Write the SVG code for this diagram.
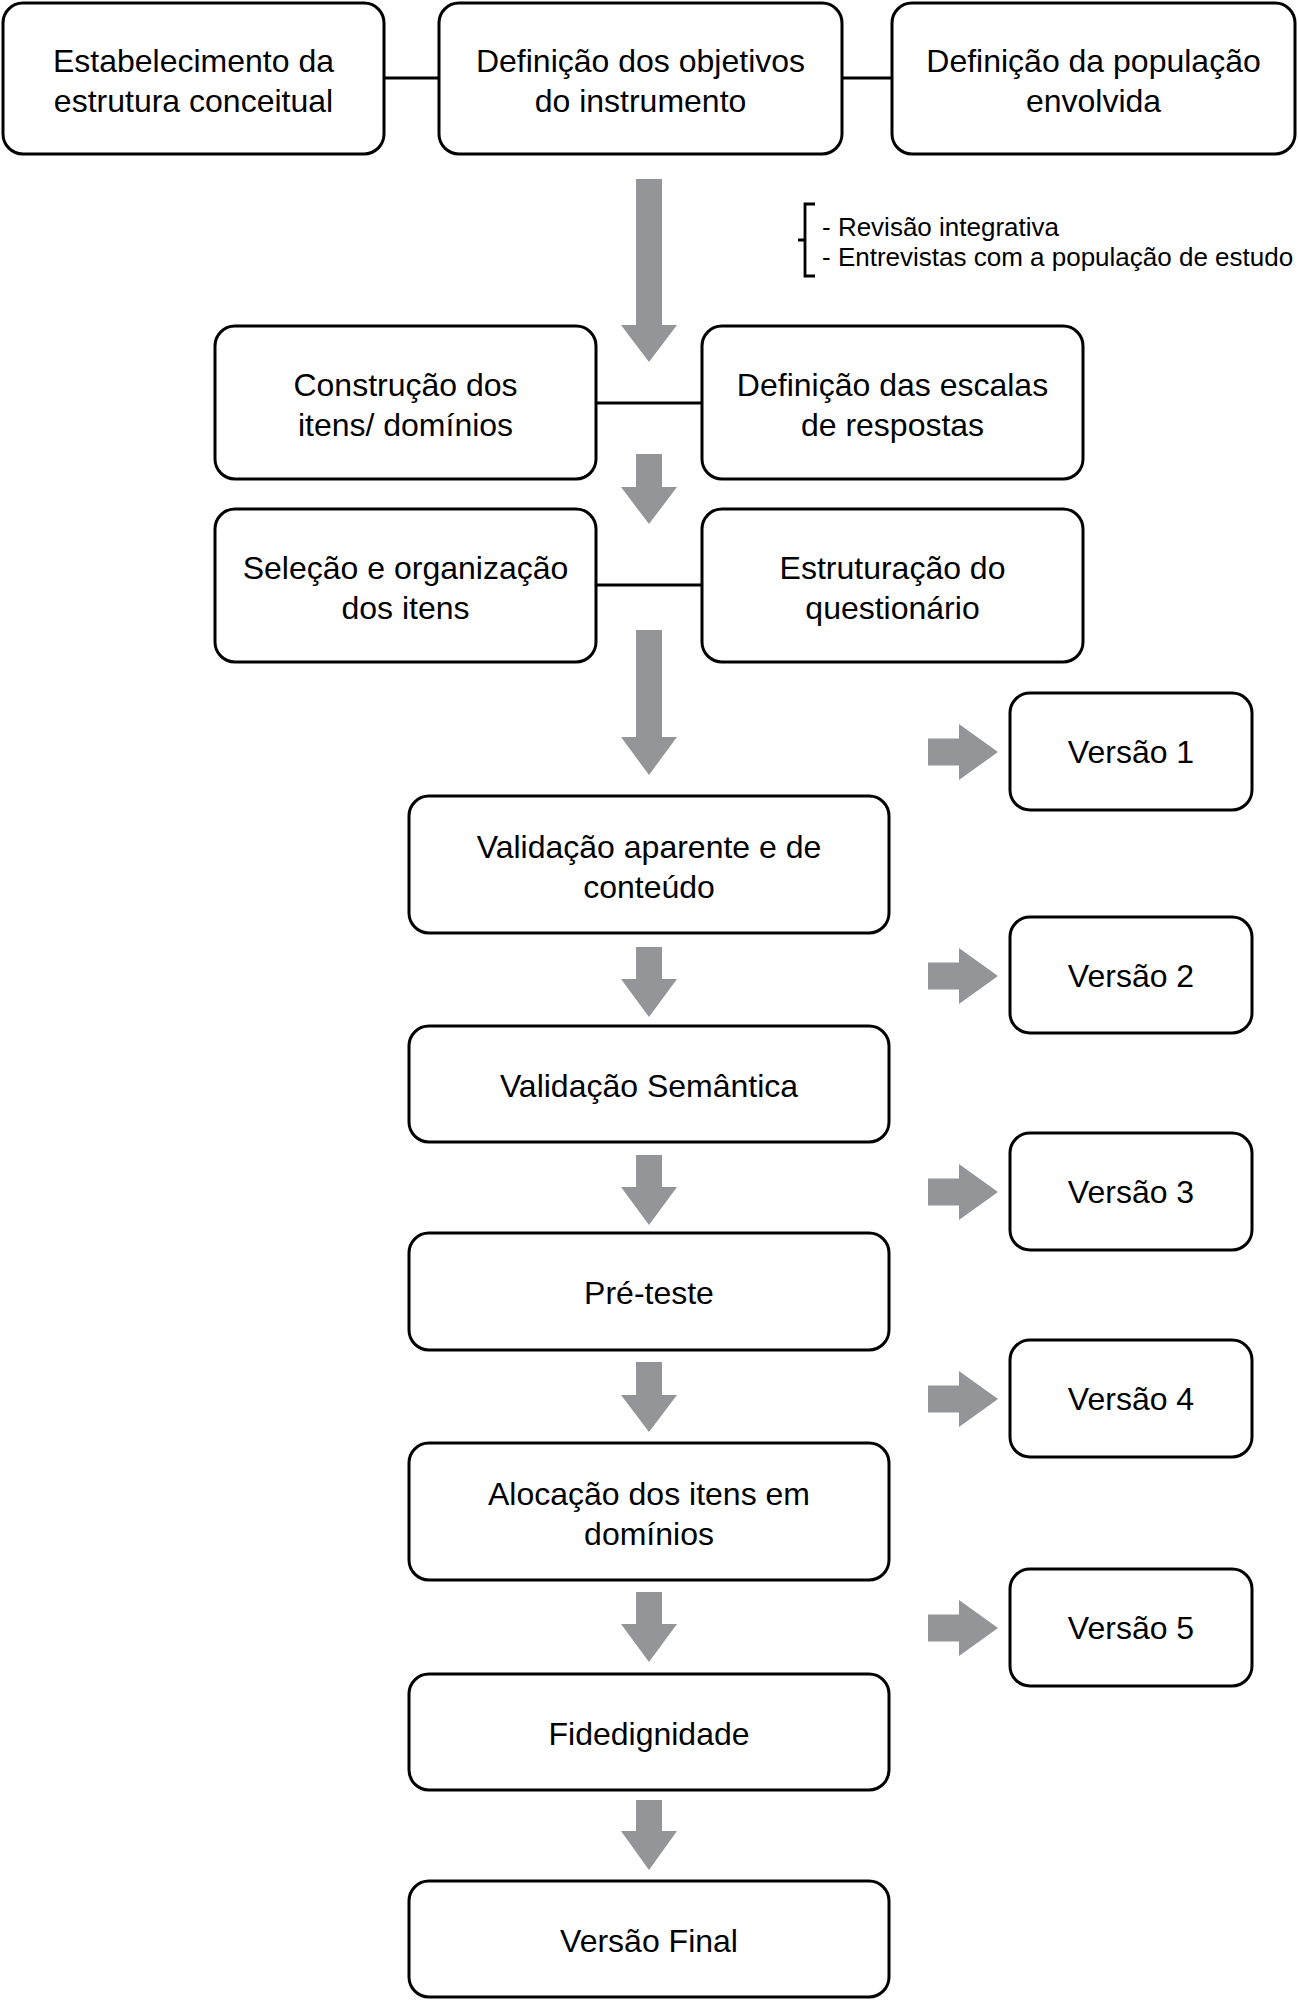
<svg xmlns="http://www.w3.org/2000/svg" width="1298" height="2000" viewBox="0 0 1298 2000">
<defs>
<style>
.node rect{fill:#fff;stroke:#000;stroke-width:3}
.node text{font-family:"Liberation Sans",Arial,sans-serif;font-size:32px;fill:#000;text-anchor:middle}
.link{stroke:#000;stroke-width:3;fill:none}
.arrow{fill:#939598;stroke:none}
.note{font-family:"Liberation Sans",Arial,sans-serif;font-size:26px;fill:#000}
</style>
</defs>
<rect width="1298" height="2000" fill="#fff"/>

<g id="connectors">
<line class="link" x1="384" y1="78" x2="439" y2="78"/>
<line class="link" x1="842" y1="78" x2="892" y2="78"/>
<line class="link" x1="596" y1="403" x2="702" y2="403"/>
<line class="link" x1="596" y1="585" x2="702" y2="585"/>
<path class="arrow" d="M636,179 H662 V325 H677 L649,362 L621,325 H636 Z"/>
<path class="arrow" d="M636,454 H662 V487 H677 L649,524 L621,487 H636 Z"/>
<path class="arrow" d="M636,630 H662 V737 H677 L649,775 L621,737 H636 Z"/>
<path class="arrow" d="M636,947 H662 V979 H677 L649,1017 L621,979 H636 Z"/>
<path class="arrow" d="M636,1155 H662 V1187 H677 L649,1225 L621,1187 H636 Z"/>
<path class="arrow" d="M636,1362 H662 V1395 H677 L649,1432 L621,1395 H636 Z"/>
<path class="arrow" d="M636,1592 H662 V1624 H677 L649,1662 L621,1624 H636 Z"/>
<path class="arrow" d="M636,1800 H662 V1831 H677 L649,1870 L621,1831 H636 Z"/>
<path class="arrow" d="M928,738.5 H959 V724 L998,752 L959,780 V765.5 H928 Z"/>
<path class="arrow" d="M928,962.5 H959 V948 L998,976 L959,1004 V989.5 H928 Z"/>
<path class="arrow" d="M928,1178.5 H959 V1164 L998,1192 L959,1220 V1205.5 H928 Z"/>
<path class="arrow" d="M928,1385.5 H959 V1371 L998,1399 L959,1427 V1412.5 H928 Z"/>
<path class="arrow" d="M928,1614.5 H959 V1600 L998,1628 L959,1656 V1641.5 H928 Z"/>
</g>

<g id="note">
<path d="M815,204 H805 V276 H815 M798,240 H805" fill="none" stroke="#000" stroke-width="2.8"/>
<text class="note" x="822" y="236">- Revisão integrativa</text>
<text class="note" x="822" y="266">- Entrevistas com a população de estudo</text>
</g>

<g id="n1" class="node"><rect x="3" y="3" width="381" height="151" rx="20"/><text x="193.5" y="71.5">Estabelecimento da</text><text x="193.5" y="111.5">estrutura conceitual</text></g>
<g id="n2" class="node"><rect x="439" y="3" width="403" height="151" rx="20"/><text x="640.5" y="71.5">Definição dos objetivos</text><text x="640.5" y="111.5">do instrumento</text></g>
<g id="n3" class="node"><rect x="892" y="3" width="403" height="151" rx="20"/><text x="1093.5" y="71.5">Definição da população</text><text x="1093.5" y="111.5">envolvida</text></g>

<g id="n4" class="node"><rect x="215" y="326" width="381" height="153" rx="20"/><text x="405.5" y="396">Construção dos</text><text x="405.5" y="436">itens/ domínios</text></g>
<g id="n5" class="node"><rect x="702" y="326" width="381" height="153" rx="20"/><text x="892.5" y="396">Definição das escalas</text><text x="892.5" y="436">de respostas</text></g>

<g id="n6" class="node"><rect x="215" y="509" width="381" height="153" rx="20"/><text x="405.5" y="579">Seleção e organização</text><text x="405.5" y="619">dos itens</text></g>
<g id="n7" class="node"><rect x="702" y="509" width="381" height="153" rx="20"/><text x="892.5" y="579">Estruturação do</text><text x="892.5" y="619">questionário</text></g>

<g id="v1" class="node"><rect x="1010" y="693" width="242" height="117" rx="20"/><text x="1131" y="763">Versão 1</text></g>
<g id="n8" class="node"><rect x="409" y="796" width="480" height="137" rx="20"/><text x="649" y="858">Validação aparente e de</text><text x="649" y="898">conteúdo</text></g>
<g id="v2" class="node"><rect x="1010" y="917" width="242" height="116" rx="20"/><text x="1131" y="987">Versão 2</text></g>
<g id="n9" class="node"><rect x="409" y="1026" width="480" height="116" rx="20"/><text x="649" y="1096.5">Validação Semântica</text></g>
<g id="v3" class="node"><rect x="1010" y="1133" width="242" height="117" rx="20"/><text x="1131" y="1203">Versão 3</text></g>
<g id="n10" class="node"><rect x="409" y="1233" width="480" height="117" rx="20"/><text x="649" y="1303.5">Pré-teste</text></g>
<g id="v4" class="node"><rect x="1010" y="1340" width="242" height="117" rx="20"/><text x="1131" y="1410">Versão 4</text></g>
<g id="n11" class="node"><rect x="409" y="1443" width="480" height="137" rx="20"/><text x="649" y="1505">Alocação dos itens em</text><text x="649" y="1545">domínios</text></g>
<g id="v5" class="node"><rect x="1010" y="1569" width="242" height="117" rx="20"/><text x="1131" y="1639">Versão 5</text></g>
<g id="n12" class="node"><rect x="409" y="1674" width="480" height="116" rx="20"/><text x="649" y="1744.5">Fidedignidade</text></g>
<g id="n13" class="node"><rect x="409" y="1881" width="480" height="116" rx="20"/><text x="649" y="1951.5">Versão Final</text></g>
</svg>
